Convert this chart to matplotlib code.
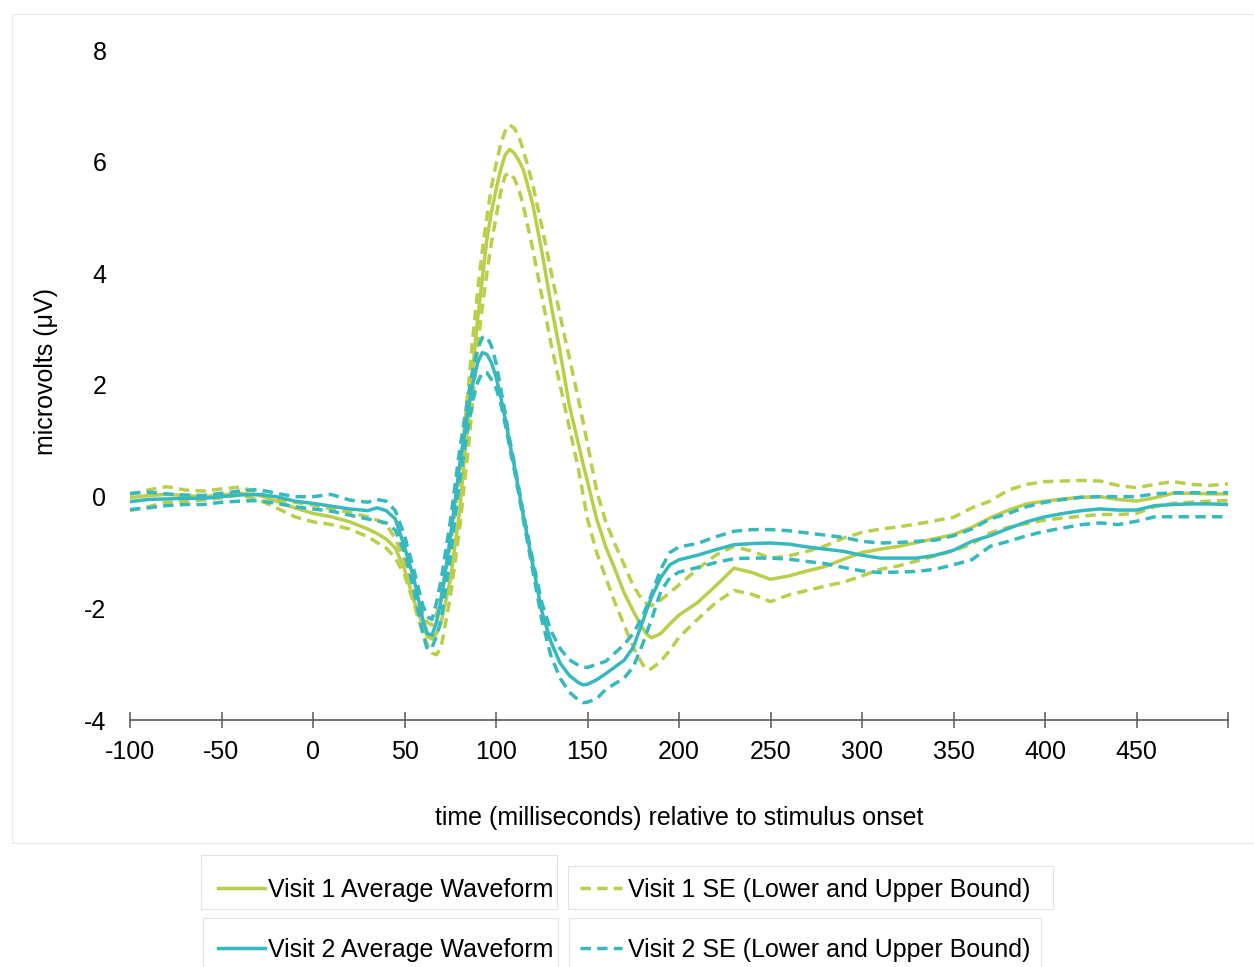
import matplotlib
matplotlib.use("Agg")
import matplotlib.pyplot as plt
from matplotlib.lines import Line2D
from matplotlib.patches import Rectangle

plt.rcParams["font.family"] = ["Liberation Sans", "DejaVu Sans"]
plt.rcParams["axes.unicode_minus"] = False

GREEN = "#bccd4a"
TEAL = "#35b9bf"
AXIS_GREY = "#595959"
FRAME_GREY = "#e3e3e3"

# sample times (ms, relative to stimulus onset)
time_ms = [-100, -90, -80, -70, -60, -50, -40, -30, -20, -10, 0, 10, 20, 30,
           35, 40, 45, 50, 55, 60, 62.5, 65, 67.5, 70, 75, 80, 85, 87.5, 90,
           92.5, 95, 97.5, 100, 102.5, 105, 107.5, 110, 112.5, 115, 120, 125,
           130, 135, 140, 145, 147.5, 150, 155, 160, 165, 170, 175, 180,
           182.5, 185, 190, 195, 200,
           210, 220, 230, 240, 250, 260, 270, 280, 290, 300, 310, 320, 330,
           340, 350, 360, 370, 380, 390, 400, 410, 420, 430, 440, 450, 460,
           470, 480, 490, 500]

# Visit 1 grand average and SE bounds (microvolts)
visit1_mean = [-0.02, 0.02, 0.04, 0.02, 0.0, 0.03, 0.06, 0.03, -0.08, -0.2,
               -0.3, -0.36, -0.45, -0.58,
               -0.66, -0.76, -0.92, -1.3, -1.85, -2.3, -2.5, -2.55, -2.45,
               -2.25, -1.5, -0.3, 1.5, 2.35, 3.2, 3.9, 4.6, 5.1, 5.5, 5.85,
               6.12, 6.22, 6.15, 6.02, 5.85, 5.25, 4.4, 3.45, 2.6, 1.65, 0.95,
               0.6, 0.27, -0.4, -0.9, -1.3, -1.72, -2.05, -2.35, -2.47, -2.53,
               -2.45, -2.28, -2.12,
               -1.9, -1.6, -1.28, -1.36, -1.48, -1.42, -1.33, -1.25, -1.12,
               -1.0, -0.94, -0.89, -0.82, -0.75, -0.68, -0.55, -0.38, -0.24,
               -0.13, -0.08, -0.04, -0.01, 0.0, -0.05, -0.08, -0.02, 0.06,
               0.06, 0.05, 0.05]
visit1_upper = [0.04, 0.12, 0.18, 0.12, 0.1, 0.14, 0.17, 0.08, -0.05, -0.1,
                -0.15, -0.22, -0.28, -0.36,
                -0.42, -0.5, -0.75, -1.15, -1.7, -2.1, -2.25, -2.3, -2.1,
                -1.8, -0.9, 0.3, 2.0, 2.9, 3.7, 4.4, 5.0, 5.55, 5.95, 6.3,
                6.55, 6.66, 6.6, 6.45, 6.2, 5.6, 4.85, 4.05, 3.25, 2.5, 1.75,
                1.35, 0.95, 0.1, -0.45, -0.85, -1.22, -1.6, -1.85, -1.92,
                -1.95, -1.85, -1.72, -1.58,
                -1.3, -1.05, -0.89, -0.98, -1.1, -1.06, -0.98, -0.88, -0.74,
                -0.64, -0.58, -0.54, -0.49, -0.43, -0.37, -0.2, -0.08, 0.12,
                0.22, 0.27, 0.28, 0.29, 0.28, 0.2, 0.16, 0.22, 0.27, 0.22,
                0.2, 0.23]
visit1_lower = [-0.25, -0.18, -0.1, -0.08, -0.06, -0.02, 0.03, -0.05, -0.2,
                -0.36, -0.45, -0.5, -0.58, -0.72,
                -0.82, -0.92, -1.1, -1.4, -1.9, -2.45, -2.65, -2.8, -2.83,
                -2.7, -1.8, -0.6, 0.9, 1.8, 2.7, 3.4, 4.0, 4.55, 5.0, 5.45,
                5.75, 5.8, 5.7, 5.5, 5.2, 4.45, 3.6, 2.75, 2.0, 1.25, 0.5,
                0.05, -0.4, -1.0, -1.45, -1.9, -2.3, -2.7, -3.0, -3.1, -3.08,
                -2.95, -2.75, -2.52,
                -2.2, -1.9, -1.68, -1.75, -1.88, -1.76, -1.68, -1.6, -1.53,
                -1.42, -1.3, -1.24, -1.15, -1.06, -0.97, -0.85, -0.65, -0.55,
                -0.48, -0.42, -0.38, -0.35, -0.32, -0.32, -0.3, -0.18, -0.12,
                -0.1, -0.08, -0.07]

# Visit 2 grand average and SE bounds (microvolts)
visit2_mean = [-0.09, -0.05, -0.04, -0.03, -0.03, 0.0, 0.03, 0.04, 0.0,
               -0.08, -0.12, -0.17, -0.22, -0.25,
               -0.2, -0.25, -0.4, -0.9, -1.45, -2.2, -2.45, -2.48, -2.25,
               -1.85, -0.75, 0.54, 1.6, 2.05, 2.4, 2.58, 2.55, 2.4, 2.15,
               1.8, 1.4, 0.95, 0.55, 0.1, -0.35, -1.2, -2.05, -2.6, -2.98,
               -3.2, -3.33, -3.37, -3.36, -3.28, -3.17, -3.05, -2.93, -2.7,
               -2.25, -2.02, -1.8, -1.45, -1.22, -1.13,
               -1.05, -0.95, -0.86, -0.84, -0.83, -0.85, -0.9, -0.94, -0.98,
               -1.05, -1.1, -1.1, -1.1, -1.05, -0.96, -0.8, -0.7, -0.57,
               -0.45, -0.36, -0.3, -0.25, -0.22, -0.24, -0.24, -0.16, -0.14,
               -0.13, -0.13, -0.14]
visit2_upper = [0.06, 0.08, 0.05, 0.03, 0.02, 0.06, 0.1, 0.13, 0.06, 0.0,
                0.0, 0.04, -0.06, -0.1,
                -0.05, -0.08, -0.25, -0.7, -1.3, -1.95, -2.15, -2.2, -1.9,
                -1.5, -0.45, 0.8, 1.85, 2.3, 2.65, 2.85, 2.87, 2.7, 2.4, 1.95,
                1.5, 1.02, 0.6, 0.15, -0.3, -1.12, -1.9, -2.4, -2.72, -2.92,
                -3.02, -3.05, -3.06, -3.0, -2.95, -2.8, -2.65, -2.45, -2.15,
                -1.95, -1.75, -1.3, -1.0, -0.9,
                -0.84, -0.72, -0.62, -0.59, -0.59, -0.61, -0.65, -0.69, -0.73,
                -0.8, -0.83, -0.82, -0.8, -0.78, -0.7, -0.58, -0.4, -0.3,
                -0.18, -0.1, -0.05, -0.01, 0.0, 0.0, 0.0, 0.05, 0.07, 0.07,
                0.07, 0.07]
visit2_lower = [-0.23, -0.2, -0.16, -0.14, -0.14, -0.1, -0.08, -0.07, -0.12,
                -0.18, -0.22, -0.26, -0.33, -0.4,
                -0.43, -0.47, -0.6, -1.0, -1.65, -2.45, -2.74, -2.7, -2.5,
                -2.2, -1.1, 0.25, 1.3, 1.75, 2.05, 2.22, 2.22, 2.1, 1.95,
                1.68, 1.3, 0.88, 0.48, 0.03, -0.42, -1.3, -2.2, -2.85, -3.25,
                -3.5, -3.64, -3.69, -3.68, -3.62, -3.45, -3.35, -3.25, -3.05,
                -2.65, -2.42, -2.2, -1.7, -1.45, -1.35,
                -1.27, -1.18, -1.11, -1.1, -1.1, -1.12, -1.16, -1.2, -1.27,
                -1.33, -1.36, -1.35, -1.34, -1.3, -1.22, -1.13, -0.89, -0.8,
                -0.7, -0.62, -0.56, -0.5, -0.47, -0.5, -0.44, -0.36, -0.36,
                -0.36, -0.36, -0.36]

x_ticks = list(range(-100, 501, 50))
x_tick_labels = [str(t) for t in x_ticks[:-1]] + [""]
y_ticks = list(range(-4, 9, 2))

legend_labels = ["Visit 1 Average Waveform",
                 "Visit 1 SE (Lower and Upper Bound)",
                 "Visit 2 Average Waveform",
                 "Visit 2 SE (Lower and Upper Bound)"]

LW = 2.5
DASH = (3.0, 1.8)

W, H = 1254, 967
fig = plt.figure(figsize=(W / 100, H / 100), dpi=100, facecolor="white")


def fx(px):
    return px / W


def fy(py):
    return 1 - py / H


# faint frame around the plotting region
fig.add_artist(Rectangle((fx(12), fy(843)), fx(1242), 829 / H,
                         transform=fig.transFigure, fill=False,
                         edgecolor="#e8e8e8", lw=0.8))

ax = fig.add_axes([fx(130), fy(720), fx(1098), 670 / H])

series = [
    (visit1_lower, GREEN, DASH),
    (visit1_upper, GREEN, DASH),
    (visit1_mean, GREEN, None),
    (visit2_lower, TEAL, DASH),
    (visit2_upper, TEAL, DASH),
    (visit2_mean, TEAL, None),
]
for values, color, dashes in series:
    kw = {"dashes": dashes} if dashes else {}
    ax.plot(time_ms, values, color=color, lw=LW, solid_joinstyle="round",
            dash_capstyle="butt", **kw)

ax.set_xlim(-100, 500)
ax.set_ylim(-4, 8)
ax.set_xticks(x_ticks)
ax.set_xticklabels(x_tick_labels)
ax.set_yticks(y_ticks)

for side in ["top", "right", "left"]:
    ax.spines[side].set_visible(False)
ax.spines["bottom"].set_color(AXIS_GREY)
ax.spines["bottom"].set_linewidth(1.2)

ax.tick_params(axis="x", direction="inout", length=11, width=1.1,
               color=AXIS_GREY, labelsize=18, pad=9)
ax.tick_params(axis="y", length=0, labelsize=18, pad=17)
ax.set_xlabel("time (milliseconds) relative to stimulus onset",
              fontsize=18, labelpad=30)
ax.set_ylabel("microvolts (μV)", fontsize=18)
ax.yaxis.set_label_coords(-0.066, 0.52)

# legend: one framed box per entry, two rows
legend_boxes = [
    # box (left, top, right, bottom), key (x0, x1, y), text (x, baseline)
    ((201, 855, 557, 909), (218, 265, 888), (268, 897), GREEN, False),
    ((568, 866, 1053, 909), (580, 622, 888), (628, 897), GREEN, True),
    ((203, 918, 558, 975), (218, 265, 948), (268, 957), TEAL, False),
    ((569, 918, 1041, 975), (580, 622, 948), (628, 957), TEAL, True),
]
for (box, key, txt, color, dashed), label in zip(legend_boxes, legend_labels):
    x0, y0, x1, y1 = box
    fig.add_artist(Rectangle((fx(x0), fy(y1)), fx(x1 - x0), (y1 - y0) / H,
                             transform=fig.transFigure, fill=False,
                             edgecolor=FRAME_GREY, lw=0.8))
    kw = {"dashes": DASH} if dashed else {}
    fig.add_artist(Line2D([fx(key[0]), fx(key[1])], [fy(key[2])] * 2,
                          transform=fig.transFigure, color=color, lw=LW,
                          dash_capstyle="butt", **kw))
    fig.text(fx(txt[0]), fy(txt[1]), label, fontsize=18, ha="left",
             va="baseline")

fig.savefig("out.png", dpi=100, facecolor="white")
